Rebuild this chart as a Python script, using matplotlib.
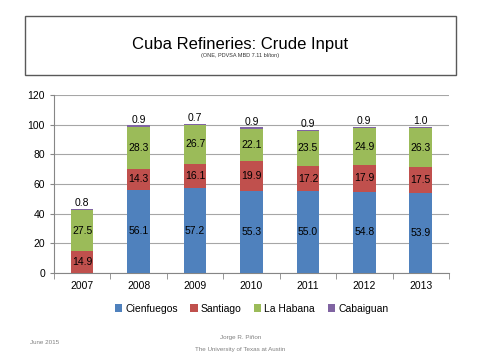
import matplotlib
matplotlib.use("Agg")
import matplotlib.pyplot as plt
from matplotlib.patches import Rectangle
import numpy as np

plt.rcParams['font.family'] = ['Liberation Sans', 'DejaVu Sans']

years = ['2007', '2008', '2009', '2010', '2011', '2012', '2013']
cienfuegos = [0.0, 56.1, 57.2, 55.3, 55.0, 54.8, 53.9]
santiago = [14.9, 14.3, 16.1, 19.9, 17.2, 17.9, 17.5]
la_habana = [27.5, 28.3, 26.7, 22.1, 23.5, 24.9, 26.3]
cabaiguan = [0.8, 0.9, 0.7, 0.9, 0.9, 0.9, 1.0]

series = [('Cienfuegos', cienfuegos, '#4F81BD'),
          ('Santiago', santiago, '#C0504D'),
          ('La Habana', la_habana, '#9BBB59'),
          ('Cabaiguan', cabaiguan, '#8064A2')]

fig = plt.figure(figsize=(4.81, 3.61), dpi=100)
W, H = 481, 361

# title box
fig.patches.append(Rectangle((25 / W, 1 - 75 / H), 431 / W, 59 / H,
                             transform=fig.transFigure, fill=False,
                             edgecolor='#595959', linewidth=1.0))
fig.text(0.5, 1 - 44 / H, 'Cuba Refineries: Crude Input', ha='center',
         va='center', fontsize=12)
fig.text(0.5, 1 - 56 / H, '(ONE, PDVSA MBD 7.11 bl/ton)', ha='center',
         va='center', fontsize=4, color='#333333')

ax = fig.add_axes([54 / W, 1 - 273 / H, 395 / W, 178 / H])
x = np.arange(len(years))
bottom = np.zeros(len(years))
for i, (name, vals, col) in enumerate(series):
    vals = np.array(vals)
    ax.bar(x, vals, 0.4, bottom=bottom, color=col, label=name, zorder=3)
    for xi, b, v in zip(x, bottom, vals):
        if v <= 0:
            continue
        if name == 'Cabaiguan':
            ax.text(xi, b + v + 0.5, f'{v:.1f}', ha='center', va='bottom',
                    fontsize=7.5)
        else:
            ax.text(xi, b + v / 2, f'{v:.1f}', ha='center', va='center',
                    fontsize=7.5)
    bottom = bottom + vals

ax.set_xlim(-0.5, len(years) - 0.5)
ax.set_ylim(0, 120)
ax.set_yticks(range(0, 121, 20))
ax.yaxis.grid(True, color='#A6A6A6', linewidth=0.8, zorder=0)
ax.set_xticks(x)
ax.set_xticklabels(years, fontsize=7.5)
ax.set_xticks(np.arange(-0.5, len(years), 1), minor=True)
ax.tick_params(axis='x', which='major', length=0, pad=6)
ax.tick_params(axis='x', which='minor', length=4, color='#868686')
ax.tick_params(axis='y', labelsize=7.5, length=3, color='#868686')
for s in ['top', 'right']:
    ax.spines[s].set_visible(False)
for s in ['left', 'bottom']:
    ax.spines[s].set_color('#868686')

ax.legend(loc='upper center', bbox_to_anchor=(0.5, -0.12), ncol=4,
          frameon=False, fontsize=7.5, handlelength=0.7, handleheight=0.7,
          handletextpad=0.3, columnspacing=1.2)

fig.text(30 / W, 1 - 343 / H, 'June 2015', fontsize=4.5, color='#808080',
         va='center')
fig.text(0.5, 1 - 338 / H, 'Jorge R. Piñon', fontsize=4.5, color='#808080',
         ha='center', va='center')
fig.text(0.5, 1 - 349 / H, 'The University of Texas at Austin', fontsize=4.5,
         color='#808080', ha='center', va='center')

fig.savefig('out.png', dpi=100)
